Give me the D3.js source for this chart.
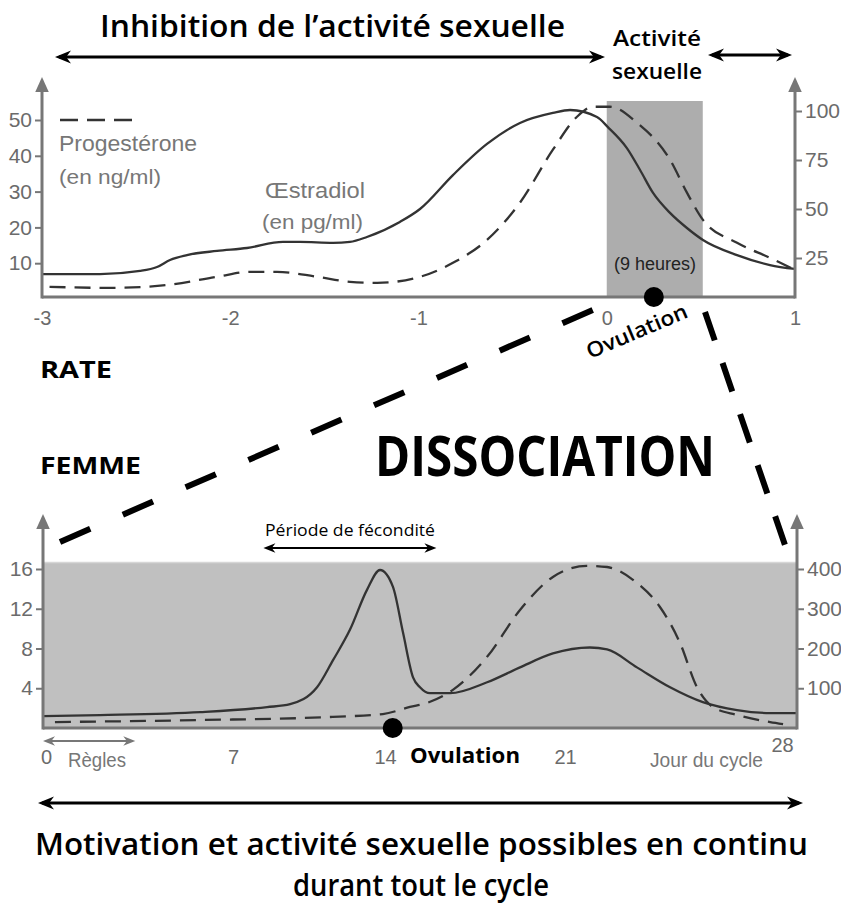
<!DOCTYPE html>
<html>
<head>
<meta charset="utf-8">
<script src="https://cdn.jsdelivr.net/npm/d3@7"></script>
<style>
  body { margin: 0; background: #fff; }
  svg { display: block; }
  .tick text { font-family: "Liberation Sans", Arial, sans-serif; fill: #6b6b6b; }
  .tick line { stroke: #777; stroke-width: 2; }
</style>
</head>
<body>
<div id="chart"></div>
<script>
// rat: hours around ovulation (in days), progesterone ng/ml (left), oestradiol pg/ml (right)
const ratProgX = [-2.96, -2.639, -2.336, -2.07, -1.895, -1.752, -1.539, -1.364, -1.22, -0.992, -0.817, -0.636, -0.461, -0.286, -0.158, -0.073, 0.017, 0.161, 0.336, 0.426, 0.511, 0.692, 0.867, 1.0]
const ratProgY = [3.4, 3.1, 3.9, 6.2, 7.6, 7.6, 6.2, 4.8, 4.5, 6.2, 10.1, 16.5, 26.9, 41.7, 50.9, 53.7, 53.7, 49.2, 38.9, 29.7, 22.1, 15.7, 11.5, 8.1]
const ratOestX = [-2.995, -2.692, -2.479, -2.389, -2.32, -2.23, -2.07, -1.911, -1.72, -1.629, -1.454, -1.364, -1.274, -1.099, -0.992, -0.817, -0.636, -0.461, -0.286, -0.195, -0.052, 0.006, 0.107, 0.177, 0.246, 0.336, 0.426, 0.511, 0.692, 0.867, 1.0]
const ratOestY = [16.8, 16.8, 18.4, 20.4, 24.0, 26.5, 28.6, 30.1, 33.2, 33.2, 32.7, 33.2, 35.7, 43.4, 50.0, 67.3, 83.2, 93.9, 99.0, 100.5, 96.9, 91.8, 81.1, 69.9, 58.2, 48.0, 40.3, 34.2, 26.5, 21.4, 19.4]
const ratTicksX = [-3, -2, -1, 0, 1]
const ratTicksL = [10, 20, 30, 40, 50]
const ratTicksR = [25, 50, 75, 100]
const ratActive = [0, 0.51]   // 9 heures
const ratOvulation = 0.25

// woman: day of cycle, oestradiol (left), progesterone (right)
const womOestX = [0, 2.1, 5.8, 8.57, 9.63, 10.87, 11.6, 12.39, 13.17, 13.77, 14.31, 14.7, 15.09, 15.36, 15.75, 16.53, 17.97, 19.25, 20.53, 21.75, 22.27, 23.17, 24.17, 25.16, 26.19, 27.19, 28]
const womOestY = [1.2, 1.3, 1.6, 2.1, 2.4, 4.1, 6.8, 9.9, 13.9, 15.9, 14.2, 9.6, 5.1, 4.1, 3.5, 3.5, 4.6, 6.1, 7.5, 8.1, 7.9, 6.1, 4.1, 2.6, 1.8, 1.5, 1.5]
const womProgX = [0.44, 5.8, 11.6, 13.9, 14.97, 15.63, 16.64, 17.97, 19.25, 20.53, 21.66, 22.27, 23.17, 23.86, 24.47, 24.98, 25.46, 26.19, 27.19, 27.58]
const womProgY = [15, 20, 28, 35, 53, 63, 96, 179, 297, 380, 408, 405, 365, 305, 214, 103, 53, 33, 15, 10]
const womTicksX = [0, 7, 14, 21, 28]
const womTicksL = [4, 8, 12, 16]
const womTicksR = [100, 200, 300, 400]
const womOvulation = 14.3
const womRegles = [0, 3.4]
const womFecondite = [8.4, 16.0]

const width = 841, height = 908
const axisGrey = "#777"
const arial = '"Liberation Sans", Arial, sans-serif'

const svg = d3.select("#chart").append("svg").attr("width", width).attr("height", height)

function arrowHead(g, x, y, dir, size, color) {
  // dir: "up", "left", "right"
  let p
  if (dir == "up") p = [[x, y], [x - size * 0.45, y + size], [x + size * 0.45, y + size]]
  if (dir == "left") p = [[x, y], [x + size, y - size * 0.4], [x + size * 0.7, y], [x + size, y + size * 0.4]]
  if (dir == "right") p = [[x, y], [x - size, y - size * 0.4], [x - size * 0.7, y], [x - size, y + size * 0.4]]
  g.append("polygon").attr("points", p.map(d => d.join(",")).join(" ")).attr("fill", color)
}

function hArrow(x1, x2, y, w, size, color) {
  svg.append("line").attr("x1", x1 + 4).attr("x2", x2 - 4).attr("y1", y).attr("y2", y)
    .attr("stroke", color).attr("stroke-width", w)
  arrowHead(svg, x1, y, "left", size, color)
  arrowHead(svg, x2, y, "right", size, color)
}

function label(txt, x, y, opts) {
  const t = svg.append("text").attr("x", x).attr("y", y).text(txt)
    .attr("font-family", opts.font || '"Open Sans", sans-serif')
    .attr("font-size", opts.size)
    .attr("font-weight", opts.weight || 400)
    .attr("fill", opts.color || "#000")
    .attr("text-anchor", opts.anchor || "start")
  if (opts.len) t.attr("textLength", opts.len).attr("lengthAdjust", "spacingAndGlyphs")
  return t
}

//=========================================/ RAT
const xR = d3.scaleLinear().domain([-3, 1]).range([42, 795])
const yRL = d3.scaleLinear().domain([0, 50]).range([299, 120])
const yRR = d3.scaleLinear().domain([0, 100]).range([307, 111])
const baseR = 297

svg.append("rect").attr("x", xR(ratActive[0])).attr("width", xR(ratActive[1]) - xR(ratActive[0]))
  .attr("y", 101).attr("height", baseR - 101).attr("fill", "#adadad")

svg.append("path").datum(ratOestX.map((d, i) => [d, ratOestY[i]]))
  .attr("d", d3.line().x(d => xR(d[0])).y(d => yRR(d[1])).curve(d3.curveMonotoneX))
  .attr("fill", "none").attr("stroke", "#333").attr("stroke-width", 2.3)
svg.append("path").datum(ratProgX.map((d, i) => [d, ratProgY[i]]))
  .attr("d", d3.line().x(d => xR(d[0])).y(d => yRL(d[1])).curve(d3.curveMonotoneX))
  .attr("fill", "none").attr("stroke", "#333").attr("stroke-width", 2.3).attr("stroke-dasharray", "16,9")

const gRL = svg.append("g").attr("transform", "translate(42,0)")
  .call(d3.axisLeft(yRL).tickValues(ratTicksL).tickSize(7).tickPadding(3))
const gRR = svg.append("g").attr("transform", "translate(795,0)")
  .call(d3.axisRight(yRR).tickValues(ratTicksR).tickSize(7).tickPadding(3))
const gRX = svg.append("g").attr("transform", "translate(0," + baseR + ")")
  .call(d3.axisBottom(xR).tickValues(ratTicksX).tickSize(0).tickPadding(14).tickFormat(d => String(d)))
;[gRL, gRR, gRX].forEach(g => { g.select(".domain").remove(); g.selectAll("text").attr("font-size", 21) })
gRX.selectAll("text").attr("font-size", 20).attr("fill", "#777")

svg.append("line").attr("x1", 42).attr("x2", 795).attr("y1", baseR).attr("y2", baseR).attr("stroke", axisGrey).attr("stroke-width", 3)
svg.append("line").attr("x1", 42).attr("x2", 42).attr("y1", baseR + 1.5).attr("y2", 88).attr("stroke", axisGrey).attr("stroke-width", 3)
svg.append("line").attr("x1", 795).attr("x2", 795).attr("y1", baseR + 1.5).attr("y2", 88).attr("stroke", axisGrey).attr("stroke-width", 3)
arrowHead(svg, 42, 77, "up", 15, axisGrey)
arrowHead(svg, 795, 77, "up", 15, axisGrey)

svg.append("circle").attr("cx", xR(ratOvulation)).attr("cy", baseR).attr("r", 10).attr("fill", "#000")

// legend
svg.append("line").attr("x1", 60).attr("x2", 132).attr("y1", 120).attr("y2", 120)
  .attr("stroke", "#333").attr("stroke-width", 2.3).attr("stroke-dasharray", "18,9")
label("Progestérone", 59, 151, { font: arial, size: 22, color: "#777", len: 138 })
label("(en ng/ml)", 59, 184, { font: arial, size: 21, color: "#777", len: 102 })
label("Œstradiol", 265, 198, { font: arial, size: 22, color: "#777", len: 100 })
label("(en pg/ml)", 262, 229, { font: arial, size: 21, color: "#777", len: 101 })
label("(9 heures)", 655, 270, { font: arial, size: 18, color: "#222", anchor: "middle" })

// headers
label("Inhibition de l’activité sexuelle", 100, 37, { size: 31, weight: 600, len: 465 })
hArrow(55, 605, 57, 3, 16, "#000")
label("Activité", 657, 46, { size: 22, weight: 600, anchor: "middle", len: 88 })
label("sexuelle", 657, 79, { size: 22, weight: 600, anchor: "middle", len: 90 })
hArrow(708, 792, 55, 3, 16, "#000")

label("Ovulation", 0, 0, { size: 21, weight: 600, len: 108 }).attr("transform", "translate(590,359) rotate(-23)")

// dissociation lines
svg.append("line").attr("x1", 60).attr("y1", 542).attr("x2", 593).attr("y2", 310)
  .attr("stroke", "#000").attr("stroke-width", 6).attr("stroke-dasharray", "33,35.5")
svg.append("line").attr("x1", 705).attr("y1", 312).attr("x2", 785).attr("y2", 545)
  .attr("stroke", "#000").attr("stroke-width", 6).attr("stroke-dasharray", "30,24")

label("RATE", 40, 378, { size: 23, weight: 700, len: 72 })
label("FEMME", 40, 474, { size: 23, weight: 700, len: 101 })
label("DISSOCIATION", 375, 476, { size: 56, weight: 700, len: 340 })

//=========================================/ FEMME
const xW = d3.scaleLinear().domain(womTicksX).range([43, 233, 385, 565, 797])
const yWL = d3.scaleLinear().domain([0, 16]).range([728, 569])
const yWR = d3.scaleLinear().domain([0, 400]).range([728, 569])
const baseW = 728

svg.append("rect").attr("x", 43).attr("width", 797 - 43).attr("y", 562).attr("height", baseW - 562).attr("fill", "#c0c0c0")
svg.append("line").attr("x1", 43).attr("x2", 797).attr("y1", 562.5).attr("y2", 562.5).attr("stroke", "#d6d6d6").attr("stroke-width", 1.5)

svg.append("path").datum(womOestX.map((d, i) => [d, womOestY[i]]))
  .attr("d", d3.line().x(d => xW(d[0])).y(d => yWL(d[1])).curve(d3.curveMonotoneX))
  .attr("fill", "none").attr("stroke", "#333").attr("stroke-width", 2.3)
svg.append("path").datum(womProgX.map((d, i) => [d, womProgY[i]]))
  .attr("d", d3.line().x(d => xW(d[0])).y(d => yWR(d[1])).curve(d3.curveMonotoneX))
  .attr("fill", "none").attr("stroke", "#333").attr("stroke-width", 2.3).attr("stroke-dasharray", "16,9")

const gWL = svg.append("g").attr("transform", "translate(43,0)")
  .call(d3.axisLeft(yWL).tickValues(womTicksL).tickSize(7).tickPadding(3))
const gWR = svg.append("g").attr("transform", "translate(797,0)")
  .call(d3.axisRight(yWR).tickValues(womTicksR).tickSize(7).tickPadding(3))
const gWX = svg.append("g").attr("transform", "translate(0," + baseW + ")")
  .call(d3.axisBottom(xW).tickValues(womTicksX).tickSize(0).tickPadding(22))
;[gWL, gWR, gWX].forEach(g => { g.select(".domain").remove(); g.selectAll("text").attr("font-size", 21) })
gWX.selectAll("text").attr("font-size", 20).attr("fill", "#777")
gWX.selectAll(".tick").filter(d => d == 0).select("text").attr("dx", 3)
gWX.selectAll(".tick").filter(d => d == 28).select("text").attr("dx", -15).attr("dy", "0.1em")

svg.append("line").attr("x1", 43).attr("x2", 797).attr("y1", baseW).attr("y2", baseW).attr("stroke", axisGrey).attr("stroke-width", 3)
svg.append("line").attr("x1", 43).attr("x2", 43).attr("y1", baseW + 1.5).attr("y2", 525).attr("stroke", axisGrey).attr("stroke-width", 3)
svg.append("line").attr("x1", 797).attr("x2", 797).attr("y1", baseW + 1.5).attr("y2", 525).attr("stroke", axisGrey).attr("stroke-width", 3)
arrowHead(svg, 43, 514, "up", 15, axisGrey)
arrowHead(svg, 797, 514, "up", 15, axisGrey)

svg.append("circle").attr("cx", xW(womOvulation)).attr("cy", baseW).attr("r", 10).attr("fill", "#000")
label("Ovulation", 410, 763, { size: 21, weight: 700, len: 110 })
label("Jour du cycle", 763, 767, { font: arial, size: 20, color: "#777", anchor: "end", len: 113 })
label("Règles", 68, 767, { font: arial, size: 20, color: "#777", len: 58 })
hArrow(xW(womRegles[0]), xW(womRegles[1]), 741, 2.2, 12, axisGrey)

label("Période de fécondité", 265, 536, { size: 17, len: 170 })
hArrow(xW(womFecondite[0]), xW(womFecondite[1]), 548, 2.2, 12, "#000")

// footer
hArrow(38, 803, 803, 3, 16, "#000")
label("Motivation et activité sexuelle possibles en continu", 35, 855, { size: 30, weight: 600, len: 773 })
label("durant tout le cycle", 421, 896, { size: 30, weight: 600, anchor: "middle", len: 256 })
</script>
</body>
</html>
